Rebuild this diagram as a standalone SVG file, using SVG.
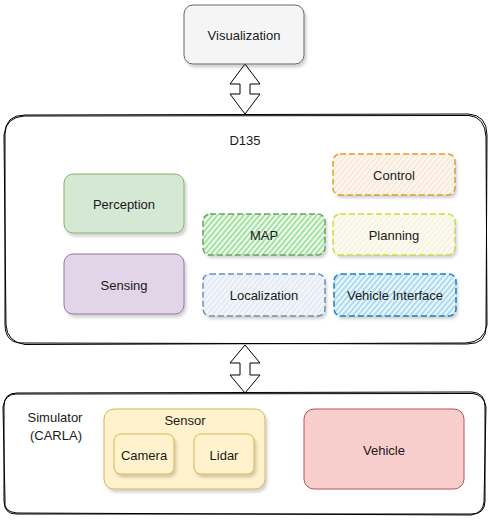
<svg xmlns="http://www.w3.org/2000/svg" width="491" height="522" viewBox="0 0 491 522">
<defs>
<style>
text{font-family:"Liberation Sans",Arial,sans-serif;font-size:13px;fill:#1a1a1a;text-anchor:middle}
.sk{fill:none;stroke:#000;stroke-width:1}
.dash{stroke-width:1.5;stroke-dasharray:6 3}
.arrow{fill:#fff;stroke:#000;stroke-width:1;stroke-linejoin:miter}
</style>
<filter id="sh" x="-10%" y="-10%" width="130%" height="140%">
<feDropShadow dx="2" dy="3" stdDeviation="1.5" flood-color="#000" flood-opacity="0.18"/>
</filter>
<pattern id="hGreen" patternUnits="userSpaceOnUse" width="4" height="4" patternTransform="rotate(40)">
<line x1="1" y1="0" x2="1" y2="4" stroke="#5ccf5c" stroke-width="1.1"/>
</pattern>
<pattern id="hBlue" patternUnits="userSpaceOnUse" width="4" height="4" patternTransform="rotate(40)">
<line x1="1" y1="0" x2="1" y2="4" stroke="#74c2e8" stroke-width="1.1"/>
</pattern>
<pattern id="hPeach" patternUnits="userSpaceOnUse" width="4" height="4" patternTransform="rotate(40)">
<line x1="1" y1="0" x2="1" y2="4" stroke="#f6dcc4" stroke-width="1"/>
</pattern>
<pattern id="hYel" patternUnits="userSpaceOnUse" width="4" height="4" patternTransform="rotate(40)">
<line x1="1" y1="0" x2="1" y2="4" stroke="#f0eccd" stroke-width="1"/>
</pattern>
<pattern id="hLoc" patternUnits="userSpaceOnUse" width="4" height="4" patternTransform="rotate(40)">
<line x1="1" y1="0" x2="1" y2="4" stroke="#d4e0ef" stroke-width="1"/>
</pattern>
</defs>

<g id="connectors">
<polygon class="arrow" points="245,64 260,84 250,84 250,94 260,94 245,114 230,94 240,94 240,84 230,84"/>
<polygon class="arrow" points="245,345 260,363 250,363 250,375 260,375 245,393 230,375 240,375 240,363 230,363"/>
</g>

<g id="visualization">
<rect x="184" y="5" width="120" height="59" rx="9" fill="#f5f5f5" stroke="#666" filter="url(#sh)"/>
<text x="244" y="39.5">Visualization</text>
</g>

<g id="d135">
<path class="sk" d="M25,115 L468,114 Q487,115 487,135 L486,326 Q487,344 467,344 L24,343 Q5,344 5,324 L5,134 Q5,115 25,115 Z"/>
<path class="sk" d="M24,116 L469,115.5 Q485,117 486,137 L487,325 Q484,342 466,343 L25,344.5 Q7,342 6,325 L4,135 Q6,117 24,116 Z"/>
<text x="245" y="144.5">D135</text>
</g>

<g id="perception">
<rect x="64" y="174" width="120" height="59" rx="9" fill="#d5e8d4" stroke="#82b366" filter="url(#sh)"/>
<text x="124" y="208.5">Perception</text>
</g>

<g id="sensing">
<rect x="64" y="254" width="120" height="60" rx="9" fill="#e1d5e7" stroke="#9673a6" filter="url(#sh)"/>
<text x="124" y="289.5">Sensing</text>
</g>

<g id="control">
<rect x="333" y="154" width="122" height="41" rx="7" fill="#fdf7f1" filter="url(#sh)"/>
<rect x="333" y="154" width="122" height="41" rx="7" fill="url(#hPeach)" stroke="#e0a020" class="dash"/>
<text x="394" y="179.5">Control</text>
</g>

<g id="map">
<rect x="203" y="214" width="122" height="41" rx="7" fill="#f4fbf2" filter="url(#sh)"/>
<rect x="203" y="214" width="122" height="41" rx="7" fill="url(#hGreen)" stroke="#6aa55a" class="dash"/>
<text x="264" y="239.5">MAP</text>
</g>

<g id="planning">
<rect x="333" y="214" width="122" height="41" rx="7" fill="#fcfbf3" filter="url(#sh)"/>
<rect x="333" y="214" width="122" height="41" rx="7" fill="url(#hYel)" stroke="#cddc39" class="dash"/>
<text x="394" y="239.5">Planning</text>
</g>

<g id="localization">
<rect x="203" y="274" width="122" height="42" rx="7" fill="#f3f6fb" filter="url(#sh)"/>
<rect x="203" y="274" width="122" height="42" rx="7" fill="url(#hLoc)" stroke="#6c8ebf" class="dash"/>
<text x="264" y="299.5">Localization</text>
</g>

<g id="vehicle-interface">
<rect x="334" y="274" width="122" height="42" rx="7" fill="#eef7fc" filter="url(#sh)"/>
<rect x="334" y="274" width="122" height="42" rx="7" fill="url(#hBlue)" stroke="#1f7fc0" class="dash"/>
<text x="395" y="299.5">Vehicle Interface</text>
</g>

<g id="simulator">
<path class="sk" d="M17,393 L472,392 Q485,393 485,406 L485,501 Q485,514 472,514 L16,514 Q4,514 4,501 L4,406 Q4,393 17,393 Z"/>
<path class="sk" d="M16,394 L473,393.5 Q484,395 486,407 L484,502 Q483,513 471,515 L17,513 Q3,512 5,500 L3,407 Q5,394 16,394 Z"/>
<text x="55" y="421.5">Simulator</text>
<text x="56" y="439.5">(CARLA)</text>
</g>

<g id="sensor">
<rect x="104" y="409" width="161" height="80" rx="10" fill="#fff2cc" stroke="#d6b656" filter="url(#sh)"/>
<text x="185" y="424.5">Sensor</text>
</g>

<g id="camera">
<rect x="114" y="434" width="60" height="40" rx="7" fill="#fff2cc" stroke="#d6b656" filter="url(#sh)"/>
<text x="144" y="459.5">Camera</text>
</g>

<g id="lidar">
<rect x="194" y="434" width="60" height="40" rx="7" fill="#fff2cc" stroke="#d6b656" filter="url(#sh)"/>
<text x="224" y="459.5">Lidar</text>
</g>

<g id="vehicle">
<rect x="304" y="409" width="160" height="80" rx="10" fill="#f8cecc" stroke="#b85450"/>
<text x="384" y="454.5">Vehicle</text>
</g>
</svg>
